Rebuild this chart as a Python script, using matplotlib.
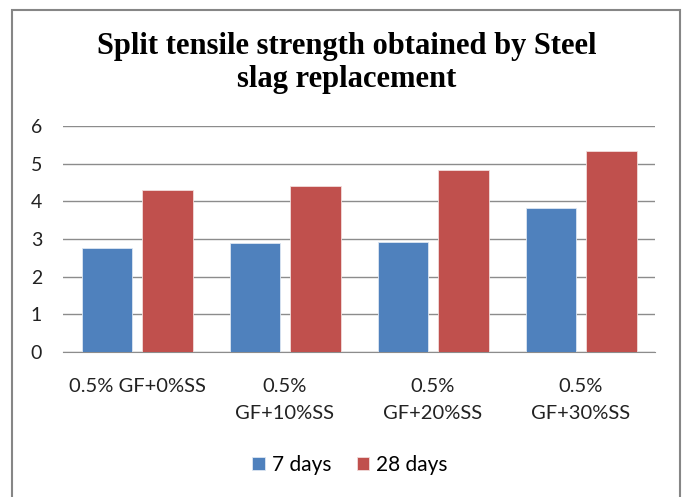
import matplotlib
matplotlib.use("Agg")
import matplotlib.pyplot as plt
from matplotlib.patches import Rectangle
import numpy as np

# данные
categories = ["0.5% GF+0%SS", "0.5%\nGF+10%SS", "0.5%\nGF+20%SS", "0.5%\nGF+30%SS"]
days_7 = [2.75, 2.90, 2.93, 3.82]
days_28 = [4.31, 4.40, 4.84, 5.33]
yticks = [0, 1, 2, 3, 4, 5, 6]

blue = "#4F81BD"
red = "#C0504D"

plt.rcParams['font.family'] = ['Lato', 'DejaVu Sans']

fig = plt.figure(figsize=(6.83, 4.97), dpi=100)
W, H = 683, 497

# рамка вокруг диаграммы
fig.patches.append(Rectangle((12 / W, -0.05), 668 / W, 1.05 - 10 / H,
                             transform=fig.transFigure, fill=False,
                             edgecolor="#868686", linewidth=1.5))

ax = fig.add_axes([63 / W, 1 - 352 / H, 592 / W, 226 / H])

x = np.arange(len(categories))
w = 0.338
off = 0.206
ax.bar(x - off, days_7, w, color=blue, edgecolor="#DCE6F2", linewidth=0.6, label="7 days", zorder=3)
ax.bar(x + off, days_28, w, color=red, edgecolor="#F2DCDB", linewidth=0.6, label="28 days", zorder=3)

ax.set_xlim(-0.5, 3.5)
ax.set_ylim(0, 6)
ax.set_yticks(yticks)
ax.set_xticks(x)
ax.set_xticklabels(categories, fontsize=14.5, color="#222222", linespacing=1.7, va="top")
ax.tick_params(axis="y", labelsize=14, colors="#222222", length=0, pad=15)
ax.tick_params(axis="x", length=0, pad=19)
ax.yaxis.grid(True, color="#8C8C8C", linewidth=1, zorder=0)
for s in ["left", "right", "top"]:
    ax.spines[s].set_visible(False)
ax.spines["bottom"].set_color("#8C8C8C")

fig.text(347 / W, 1 - 63 / H, "Split tensile strength obtained by Steel\nslag replacement",
         ha="center", va="center", fontsize=22, fontweight="bold",
         family=["Liberation Serif", "DejaVu Serif"], linespacing=1.22)

fig.legend(loc="center", bbox_to_anchor=(350 / W, 1 - 465 / H), ncol=2, frameon=False,
           fontsize=15, handlelength=0.6, handleheight=0.6, handletextpad=0.35,
           columnspacing=1.2)

plt.savefig("out.png", dpi=100)
